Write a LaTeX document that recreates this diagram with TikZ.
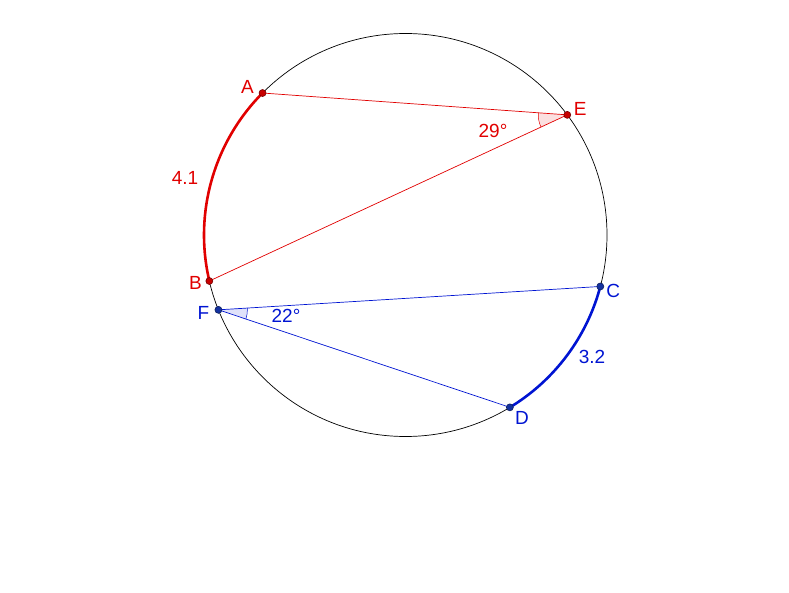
\documentclass[tikz,border=0pt]{standalone}
\usepackage{fontspec}
\setmainfont{Liberation Sans}
\usepackage{tikz}
\usetikzlibrary{angles,quotes}
\definecolor{ggred}{RGB}{225,0,0}
\definecolor{ggblue}{RGB}{0,20,210}
\definecolor{dotred}{RGB}{200,0,0}
\definecolor{dotblue}{RGB}{20,50,160}
\tikzset{
  pt/.style={circle,inner sep=0pt,minimum size=7pt,draw=#1!60!black,fill=#1,line width=0.6pt},
  lbl/.style={font=\fontsize{19}{22}\selectfont,inner sep=0pt}
}

\begin{document}
\begin{tikzpicture}[x=1pt,y=1pt]
  \useasboundingbox (0,0) rectangle (789,592);
  \begin{scope}[shift={(405.5,357)}]
    \coordinate (O) at (0,0);
    \coordinate (A) at (135.2:201.5);
    \coordinate (B) at (193.2:201.5);
    \coordinate (E) at (36.6:201.5);
    \coordinate (F) at (201.8:201.5);
    \coordinate (C) at (345.2:201.5);
    \coordinate (D) at (301.2:201.5);
  \end{scope}
  \draw[line width=0.7pt] (O) circle[radius=201.5];
  % arcs
  \draw[ggred,line width=2.6pt] (A) arc[start angle=135.2,end angle=193.2,radius=201.5];
  \draw[ggblue,line width=2.6pt] (D) arc[start angle=301.2,end angle=345.2,radius=201.5];
  % chords and angles
  \draw[ggred,line width=0.7pt] (A) -- (E) -- (B);
  \draw[ggblue,line width=0.7pt] (C) -- (F) -- (D);
  \pic[draw=ggred,fill=ggred,fill opacity=0.12,line width=0.5pt,angle radius=29pt] {angle=A--E--B};
  \pic[draw=ggblue,fill=ggblue,fill opacity=0.12,line width=0.5pt,angle radius=29pt] {angle=D--F--C};
  % points
  \node[pt=dotred] (pA) at (A) {};
  \node[pt=dotred] (pE) at (E) {};
  \node[pt=dotred] (pB) at (B) {};
  \node[pt=dotblue] (pF) at (F) {};
  \node[pt=dotblue] (pC) at (C) {};
  \node[pt=dotblue] (pD) at (D) {};
  \node[lbl,ggred] at ([shift={(-15,6)}]pA) {A};
  \node[lbl,ggred] at ([shift={(13,6)}]pE) {E};
  \node[lbl,ggred] at ([shift={(-14,-2)}]pB) {B};
  \node[lbl,ggblue] at ([shift={(-15,-3)}]pF) {F};
  \node[lbl,ggblue] at ([shift={(13,-4)}]pC) {C};
  \node[lbl,ggblue] at ([shift={(12,-11)}]pD) {D};
  % measures
  \node[lbl,ggred] (angE) at (493,461) {29°};
  \node[lbl,ggblue] (angF) at (286,276) {22°};
  \node[lbl,ggred] (arcAB) at (185,414) {4.1};
  \node[lbl,ggblue] (arcCD) at (592,235) {3.2};
\end{tikzpicture}
\end{document}
